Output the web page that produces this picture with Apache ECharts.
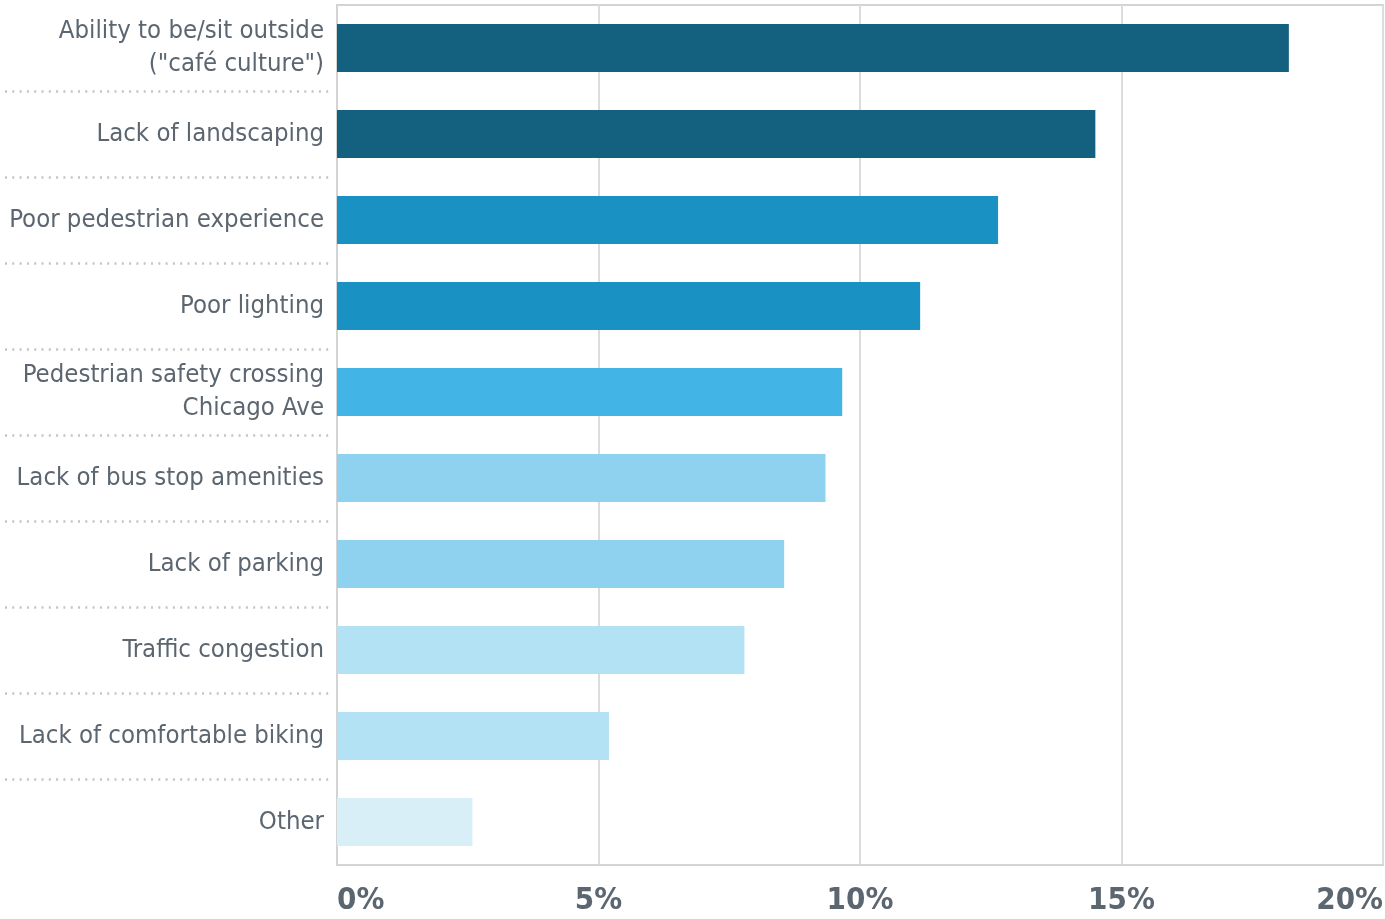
<!DOCTYPE html>
<html>
<head>
<meta charset="utf-8">
<title>Streetscape concerns</title>
<script src="https://cdn.jsdelivr.net/npm/echarts@6/dist/echarts.min.js"></script>
<style>
  html, body { margin: 0; padding: 0; background: #ffffff; }
  #chart { width: 1385px; height: 919px; }
</style>
</head>
<body>
<div id="chart"></div>
<script>
// Survey responses, top to bottom
const categories = [
  'Ability to be/sit outside\n("café culture")',
  'Lack of landscaping',
  'Poor pedestrian experience',
  'Poor lighting',
  'Pedestrian safety crossing\nChicago Ave',
  'Lack of bus stop amenities',
  'Lack of parking',
  'Traffic congestion',
  'Lack of comfortable biking',
  'Other'
];
// Share of responses (%)
const shares = [18.2, 14.5, 12.64, 11.15, 9.66, 9.34, 8.55, 7.79, 5.2, 2.59];
// Bar fill per category
const barColors = [
  '#14607f', '#14607f', '#1a91c3', '#1a91c3', '#42b5e6',
  '#8ed2ef', '#8ed2ef', '#b4e2f5', '#b4e2f5', '#d9eff8'
];
const tickValues = [0, 5, 10, 15, 20];

const FONT = '"Liberation Sans Narrow", "DejaVu Sans Condensed", sans-serif';
const TEXT = '#5c6670';

const chart = echarts.init(document.getElementById('chart'), null, { renderer: 'canvas' });

chart.setOption({
  animation: false,
  backgroundColor: '#ffffff',
  grid: [
    {
      left: 337, right: 2, top: 5, bottom: 54,
      show: true, borderWidth: 2, borderColor: '#d4d4d4',
      containLabel: false, outerBoundsMode: 'none'
    },
    // label column, only used for the dotted row separators
    { left: 5, right: 1052, top: 5, bottom: 54, containLabel: false, outerBoundsMode: 'none' }
  ],
  xAxis: [
    {
      type: 'value', gridIndex: 0,
      min: tickValues[0], max: tickValues[tickValues.length - 1], interval: 5,
      axisLine: { show: true, lineStyle: { color: '#d4d4d4', width: 2 } },
      axisTick: { show: false },
      splitLine: { show: true, lineStyle: { color: '#dcdcdc', width: 2 } },
      axisLabel: {
        formatter: '{value}%', margin: 20,
        fontFamily: FONT, fontSize: 31, fontWeight: 'bold', color: TEXT,
        alignMinLabel: 'left', alignMaxLabel: 'right'
      }
    },
    { type: 'value', gridIndex: 1, min: 0, max: 1, show: false }
  ],
  yAxis: [
    {
      type: 'category', gridIndex: 0, data: categories, inverse: true,
      axisLine: { show: true, lineStyle: { color: '#d4d4d4', width: 2 } },
      axisTick: { show: false },
      splitLine: { show: false },
      axisLabel: {
        margin: 13, fontFamily: FONT, fontSize: 25.5, lineHeight: 33,
        color: TEXT, align: 'right'
      }
    },
    {
      type: 'category', gridIndex: 1, data: categories, inverse: true,
      axisLine: { show: false }, axisTick: { show: false }, axisLabel: { show: false },
      splitLine: {
        show: true, showMinLine: false, showMaxLine: false,
        lineStyle: { color: '#c4c4c4', width: 2.5, type: [2, 5.3] }
      }
    }
  ],
  series: [
    {
      type: 'bar', xAxisIndex: 0, yAxisIndex: 0,
      data: shares.map((v, i) => ({ value: v, itemStyle: { color: barColors[i] } })),
      barWidth: 48,
      silent: true
    }
  ]
});
</script>
</body>
</html>
